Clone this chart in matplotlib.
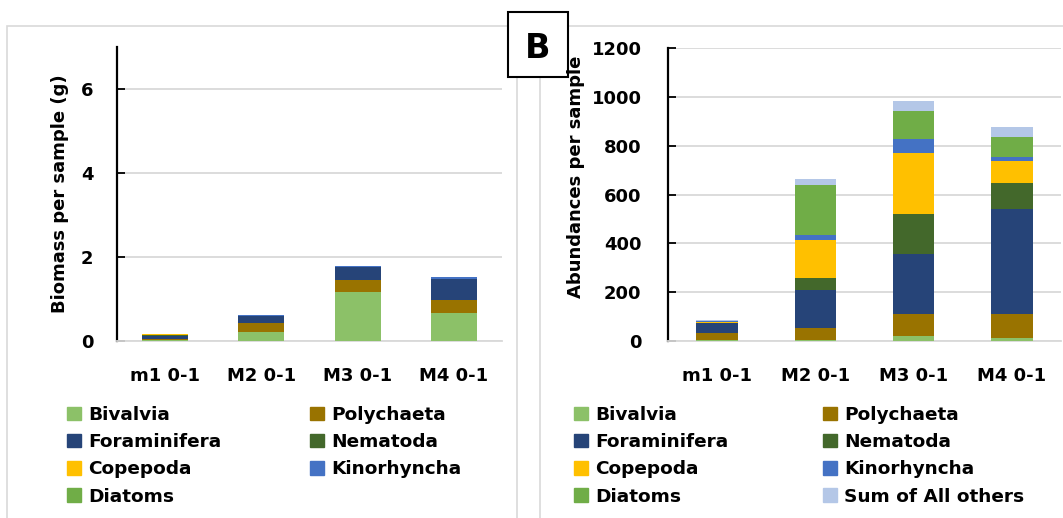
import numpy as np
import matplotlib.pyplot as plt
from matplotlib.patches import Rectangle

W, H = 1063, 518

samples = ['m1 0-1', 'M2 0-1', 'M3 0-1', 'M4 0-1']
taxa = ['Bivalvia', 'Polychaeta', 'Foraminifera', 'Nematoda',
        'Copepoda', 'Kinorhyncha', 'Diatoms', 'Sum of All others']
colors = ['#8CC168', '#997300', '#264478', '#43682B',
          '#FFC000', '#4472C4', '#70AD47', '#B4C7E7']

# panel A: biomass per sample (g)
bio_bivalvia = [0.01, 0.21, 1.17, 0.65]
bio_polychaeta = [0.04, 0.20, 0.27, 0.32]
bio_foraminifera = [0.07, 0.18, 0.32, 0.51]
bio_nematoda = [0.02, 0.0, 0.0, 0.0]
bio_copepoda = [0.03, 0.0, 0.0, 0.0]
bio_kinorhyncha = [0.0, 0.02, 0.03, 0.03]
bio_diatoms = [0.0, 0.0, 0.0, 0.0]

# panel B: abundances per sample
ab_bivalvia = [2, 2, 19, 11]
ab_polychaeta = [28, 50, 91, 99]
ab_foraminifera = [41, 157, 247, 429]
ab_nematoda = [2, 49, 165, 107]
ab_copepoda = [5, 157, 248, 91]
ab_kinorhyncha = [1, 17, 57, 16]
ab_diatoms = [2, 205, 116, 83]
ab_others = [6, 25, 41, 41]

biomass = [bio_bivalvia, bio_polychaeta, bio_foraminifera, bio_nematoda,
           bio_copepoda, bio_kinorhyncha, bio_diatoms]
abund = [ab_bivalvia, ab_polychaeta, ab_foraminifera, ab_nematoda,
         ab_copepoda, ab_kinorhyncha, ab_diatoms, ab_others]

plt.rcParams['font.family'] = ['DejaVu Sans']
plt.rcParams['font.weight'] = 'bold'

fig = plt.figure(figsize=(W / 100, H / 100), dpi=100)


def px(x, y):
    return x / W, 1 - y / H


def stacked(ax, series, width, ymax, yticks, ylabel, lab_x, lab_y, pad):
    x = np.arange(len(samples))
    bottom = np.zeros(len(samples))
    for vals, c in zip(series, colors):
        ax.bar(x, vals, width, bottom=bottom, color=c, zorder=3)
        bottom += np.array(vals)
    ax.set_xlim(-0.5, len(samples) - 0.5)
    ax.set_ylim(0, ymax)
    ax.set_yticks(yticks)
    ax.set_xticks(x)
    ax.set_xticklabels(samples)
    ax.grid(axis='y', color='#D9D9D9', lw=1.3, zorder=0)
    for s in ['top', 'right']:
        ax.spines[s].set_visible(False)
    ax.spines['bottom'].set_color('#D9D9D9')
    ax.spines['bottom'].set_linewidth(1.3)
    ax.spines['left'].set_linewidth(1.6)
    ax.tick_params(axis='y', direction='in', length=6, width=1.3,
                   labelsize=13, pad=pad)
    ax.tick_params(axis='x', length=0, labelsize=13, pad=19)
    ax.set_ylabel(ylabel, fontsize=13, fontweight='bold')
    ax.yaxis.set_label_coords(lab_x, lab_y)


def legend(labels, cols, bases):
    for i, lab in enumerate(labels):
        r, c = divmod(i, 2)
        mx, tx = cols[c]
        base = bases[r]
        fig.add_artist(Rectangle(px(mx, base), 14 / W, 13.5 / H,
                                 color=colors[i], transform=fig.transFigure))
        fig.text(*px(tx, base), lab, fontsize=13.3, fontweight='bold',
                 va='baseline', ha='left')


# panel frames
fig.add_artist(Rectangle(px(7, 530), 510 / W, 504 / H, fill=False,
                         ec='#D9D9D9', lw=1.2, zorder=-2,
                         transform=fig.transFigure))
fig.add_artist(Rectangle(px(540, 530), 540 / W, 504 / H, fill=False,
                         ec='#D9D9D9', lw=1.2, zorder=-2,
                         transform=fig.transFigure))

axA = fig.add_axes([117 / W, 1 - 340.7 / H, 385 / W, 294 / H])
stacked(axA, biomass, 0.48, 7, [0, 2, 4, 6], 'Biomass per sample (g)',
        -0.125, 0.5, 17)

axB = fig.add_axes([668 / W, 1 - 340.7 / H, 393 / W, 292.4 / H])
stacked(axB, abund, 0.42, 1200, np.arange(0, 1201, 200),
        'Abundances per sample', -0.21, 0.56, 19)
for a in (axA, axB):
    a.patch.set_alpha(0)

bases = [420, 447.3, 474.5, 501.7]
legend(taxa[:7], [(67, 88), (310, 331)], bases)
legend(taxa, [(574, 595), (823, 844)], bases)

# panel letter
fig.add_artist(Rectangle(px(508, 77), 60 / W, 65 / H, fc='white', ec='black',
                         lw=1.5, zorder=-1, transform=fig.transFigure))
fig.text(*px(537.5, 48), 'B', fontsize=24, fontweight='bold',
         ha='center', va='center')

fig.savefig('out.png', dpi=100, facecolor='white')
